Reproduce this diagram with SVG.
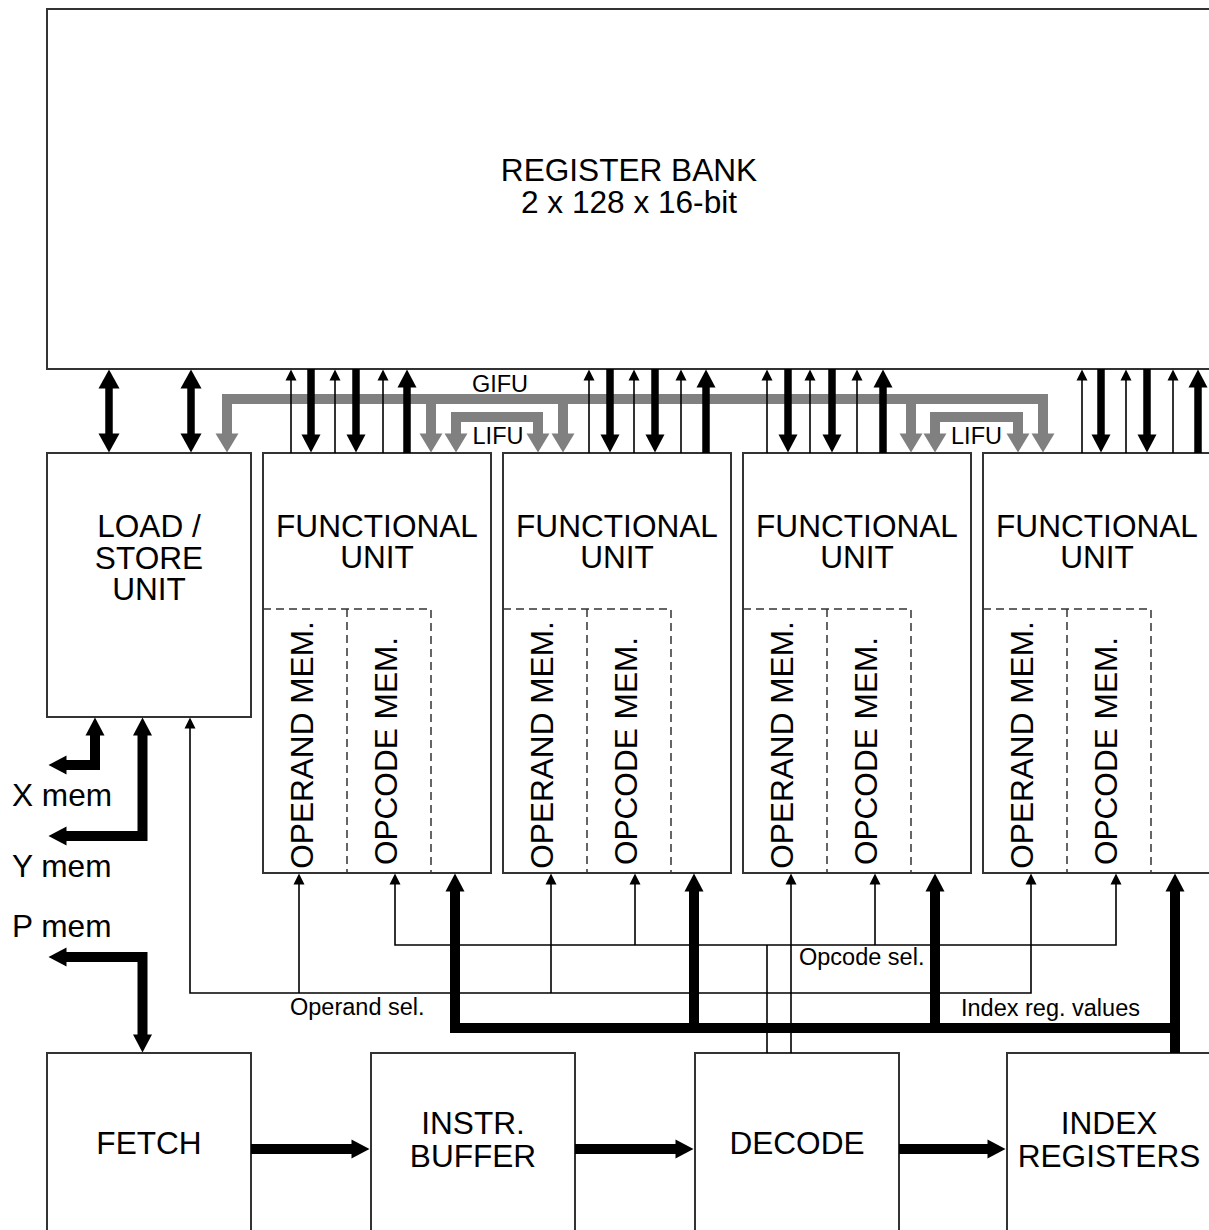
<svg xmlns="http://www.w3.org/2000/svg" width="1209" height="1230" viewBox="0 0 1209 1230">
<style>
.box{fill:#fff;stroke:#333;stroke-width:2}
.dash{fill:none;stroke:#333;stroke-width:1.5;stroke-dasharray:8 5}
.t{font-family:"Liberation Sans",Arial,sans-serif;font-size:31.6px;fill:#000;text-anchor:middle}
.s{font-family:"Liberation Sans",Arial,sans-serif;font-size:23.5px;fill:#000}
.thin{fill:none;stroke:#000;stroke-width:1.6}
.k7{fill:none;stroke:#000;stroke-width:7.5}
.k10{fill:none;stroke:#000;stroke-width:10}
.g{fill:none;stroke:#808080;stroke-width:10}
</style>
<defs>
<marker id="mt" markerUnits="userSpaceOnUse" markerWidth="12" markerHeight="12" refX="0.5" refY="5.5" orient="auto-start-reverse" overflow="visible"><path d="M0,0 L11,5.5 L0,11 z" fill="#000"/></marker>
<marker id="mk" markerUnits="userSpaceOnUse" markerWidth="19" markerHeight="20" refX="0.5" refY="9.5" orient="auto-start-reverse" overflow="visible"><path d="M0,0 L18,9.5 L0,19 z" fill="#000"/></marker>
<marker id="mb" markerUnits="userSpaceOnUse" markerWidth="20" markerHeight="22" refX="0.5" refY="10.5" orient="auto-start-reverse" overflow="visible"><path d="M0,0 L19,10.5 L0,21 z" fill="#000"/></marker>
<marker id="mg" markerUnits="userSpaceOnUse" markerWidth="20" markerHeight="24" refX="0.5" refY="11.5" orient="auto-start-reverse" overflow="visible"><path d="M0,0 L19,11.5 L0,23 z" fill="#808080"/></marker>
</defs>

<g id="register-bank">
<rect class="box" x="47" y="9" width="1164" height="360"/>
<text class="t" x="629" y="181">REGISTER BANK</text>
<text class="t" x="629" y="213">2 x 128 x 16-bit</text>
</g>

<g id="load-store-unit">
<rect class="box" x="47" y="453" width="204" height="264"/>
<text class="t" x="149" y="537">LOAD /</text>
<text class="t" x="149" y="569">STORE</text>
<text class="t" x="149" y="600">UNIT</text>
</g>

<g id="fu1">
<rect class="box" x="263" y="453" width="228" height="420"/>
<path class="dash" d="M263,609 H431 V873 M347,609 V873"/>
<text class="t" x="377" y="537">FUNCTIONAL</text>
<text class="t" x="377" y="568">UNIT</text>
<text class="t" transform="translate(313,745) rotate(-90)">OPERAND MEM.</text>
<text class="t" transform="translate(397,751) rotate(-90)">OPCODE MEM.</text>
</g>
<g id="fu2">
<rect class="box" x="503" y="453" width="228" height="420"/>
<path class="dash" d="M503,609 H671 V873 M587,609 V873"/>
<text class="t" x="617" y="537">FUNCTIONAL</text>
<text class="t" x="617" y="568">UNIT</text>
<text class="t" transform="translate(553,745) rotate(-90)">OPERAND MEM.</text>
<text class="t" transform="translate(637,751) rotate(-90)">OPCODE MEM.</text>
</g>
<g id="fu3">
<rect class="box" x="743" y="453" width="228" height="420"/>
<path class="dash" d="M743,609 H911 V873 M827,609 V873"/>
<text class="t" x="857" y="537">FUNCTIONAL</text>
<text class="t" x="857" y="568">UNIT</text>
<text class="t" transform="translate(793,745) rotate(-90)">OPERAND MEM.</text>
<text class="t" transform="translate(877,751) rotate(-90)">OPCODE MEM.</text>
</g>
<g id="fu4">
<rect class="box" x="983" y="453" width="228" height="420"/>
<path class="dash" d="M983,609 H1151 V873 M1067,609 V873"/>
<text class="t" x="1097" y="537">FUNCTIONAL</text>
<text class="t" x="1097" y="568">UNIT</text>
<text class="t" transform="translate(1033,745) rotate(-90)">OPERAND MEM.</text>
<text class="t" transform="translate(1117,751) rotate(-90)">OPCODE MEM.</text>
</g>

<g id="fetch">
<rect class="box" x="47" y="1053" width="204" height="200"/>
<text class="t" x="149" y="1154">FETCH</text>
</g>
<g id="instr-buffer">
<rect class="box" x="371" y="1053" width="204" height="200"/>
<text class="t" x="473" y="1134">INSTR.</text>
<text class="t" x="473" y="1167">BUFFER</text>
</g>
<g id="decode">
<rect class="box" x="695" y="1053" width="204" height="200"/>
<text class="t" x="797" y="1154">DECODE</text>
</g>
<g id="index-registers">
<rect class="box" x="1007" y="1053" width="204" height="200"/>
<text class="t" x="1109" y="1134">INDEX</text>
<text class="t" x="1109" y="1167">REGISTERS</text>
</g>

<g id="connectors">
<!-- load/store to register bank -->
<path class="k7" d="M109,388 V434" marker-start="url(#mb)" marker-end="url(#mb)"/>
<path class="k7" d="M191,388 V434" marker-start="url(#mb)" marker-end="url(#mb)"/>
<!-- GIFU / LIFU -->
<path class="g" d="M227,434 V399 H1043 V434" marker-start="url(#mg)" marker-end="url(#mg)"/>
<path class="g" d="M431,399 V434" marker-end="url(#mg)"/>
<path class="g" d="M563,399 V434" marker-end="url(#mg)"/>
<path class="g" d="M911,399 V434" marker-end="url(#mg)"/>
<path class="g" d="M456,434 V417 H538 V434" marker-start="url(#mg)" marker-end="url(#mg)"/>
<path class="g" d="M935,434 V417 H1018 V434" marker-start="url(#mg)" marker-end="url(#mg)"/>
<!-- FU1 -->
<path class="thin" d="M291,453 V380" marker-end="url(#mt)"/>
<path class="k7" d="M311,369 V435" marker-end="url(#mk)"/>
<path class="thin" d="M335,453 V380" marker-end="url(#mt)"/>
<path class="k7" d="M356,369 V435" marker-end="url(#mk)"/>
<path class="thin" d="M383,453 V380" marker-end="url(#mt)"/>
<path class="k7" d="M407,453 V387" marker-end="url(#mk)"/>
<!-- FU2 -->
<path class="thin" d="M589,453 V380" marker-end="url(#mt)"/>
<path class="k7" d="M610,369 V435" marker-end="url(#mk)"/>
<path class="thin" d="M634,453 V380" marker-end="url(#mt)"/>
<path class="k7" d="M655,369 V435" marker-end="url(#mk)"/>
<path class="thin" d="M681,453 V380" marker-end="url(#mt)"/>
<path class="k7" d="M706,453 V387" marker-end="url(#mk)"/>
<!-- FU3 -->
<path class="thin" d="M767,453 V380" marker-end="url(#mt)"/>
<path class="k7" d="M788,369 V435" marker-end="url(#mk)"/>
<path class="thin" d="M810,453 V380" marker-end="url(#mt)"/>
<path class="k7" d="M832,369 V435" marker-end="url(#mk)"/>
<path class="thin" d="M857,453 V380" marker-end="url(#mt)"/>
<path class="k7" d="M883,453 V387" marker-end="url(#mk)"/>
<!-- FU4 -->
<path class="thin" d="M1082,453 V380" marker-end="url(#mt)"/>
<path class="k7" d="M1101,369 V435" marker-end="url(#mk)"/>
<path class="thin" d="M1126,453 V380" marker-end="url(#mt)"/>
<path class="k7" d="M1147,369 V435" marker-end="url(#mk)"/>
<path class="thin" d="M1173,453 V380" marker-end="url(#mt)"/>
<path class="k7" d="M1198,453 V387" marker-end="url(#mk)"/>

<!-- memories -->
<path class="k10" d="M95,735 V765 H66" marker-start="url(#mk)" marker-end="url(#mk)"/>
<path class="k10" d="M142.5,735 V836 H66" marker-start="url(#mk)" marker-end="url(#mk)"/>
<path class="k10" d="M66,957 H142.5 V1035" marker-start="url(#mk)" marker-end="url(#mk)"/>

<!-- operand select -->
<path class="thin" d="M1031,884 V993 H190 V728" marker-start="url(#mt)" marker-end="url(#mt)"/>
<path class="thin" d="M299,993 V884" marker-end="url(#mt)"/>
<path class="thin" d="M551,993 V884" marker-end="url(#mt)"/>
<path class="thin" d="M791,1053 V884" marker-end="url(#mt)"/>
<!-- opcode select -->
<path class="thin" d="M395,884 V945 H1116 V884" marker-start="url(#mt)" marker-end="url(#mt)"/>
<path class="thin" d="M635,945 V884" marker-end="url(#mt)"/>
<path class="thin" d="M875,945 V884" marker-end="url(#mt)"/>
<path class="thin" d="M767,1053 V945"/>
<!-- index register values -->
<path class="k10" d="M455,891 V1028 H1175" marker-start="url(#mk)"/>
<path class="k10" d="M694,1028 V891" marker-end="url(#mk)"/>
<path class="k10" d="M935,1028 V891" marker-end="url(#mk)"/>
<path class="k10" d="M1175,1053 V891" marker-end="url(#mk)"/>

<!-- pipeline -->
<path class="k10" d="M251,1149 H352" marker-end="url(#mk)"/>
<path class="k10" d="M575,1149 H676" marker-end="url(#mk)"/>
<path class="k10" d="M899,1149 H988" marker-end="url(#mk)"/>
</g>

<g id="labels">
<text class="s" x="500" y="392" text-anchor="middle">GIFU</text>
<text class="s" x="498" y="444" text-anchor="middle">LIFU</text>
<text class="s" x="976.5" y="444" text-anchor="middle">LIFU</text>
<text class="s" x="290" y="1015">Operand sel.</text>
<text class="s" x="799" y="965">Opcode sel.</text>
<text class="s" x="961" y="1016">Index reg. values</text>
<text class="t" x="12" y="806" style="text-anchor:start">X mem</text>
<text class="t" x="12" y="877" style="text-anchor:start">Y mem</text>
<text class="t" x="12" y="937" style="text-anchor:start">P mem</text>
</g>
</svg>
